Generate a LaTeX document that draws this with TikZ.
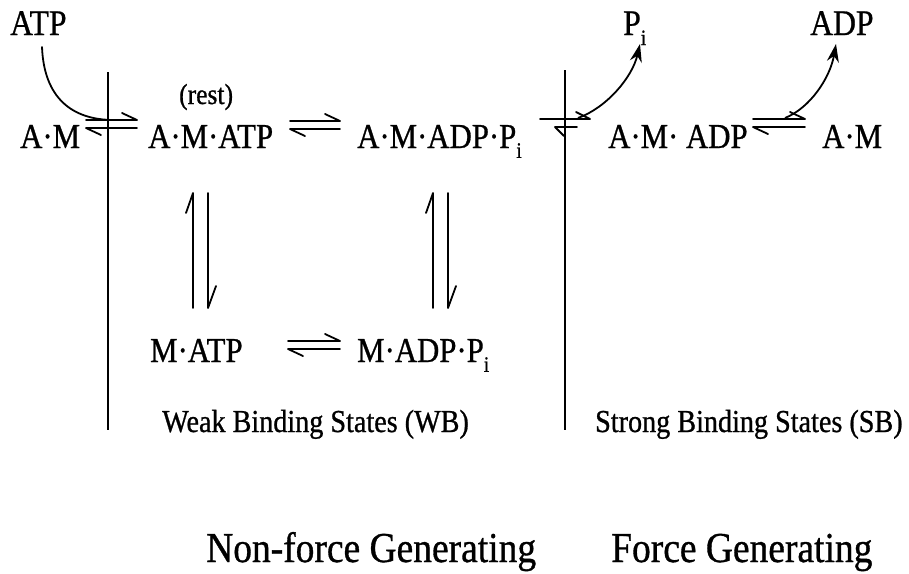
\documentclass[tikz,border=0pt]{standalone}
\usepackage{fontspec}
\setmainfont{Liberation Serif}[FakeStretch=0.88, FakeBold=0.8]
\usetikzlibrary{arrows.meta}
\newcommand{\fs}[1]{\fontsize{#1}{#1}\selectfont}
\newcommand{\sbi}{\raisebox{-0.28em}{\fs{22}i}}
\begin{document}
\begin{tikzpicture}[x=1pt,y=-1pt,
  lbl/.style={inner sep=0pt, anchor=base west, font=\fs{35}},
  toplbl/.style={inner sep=0pt, anchor=base west, font=\fs{36}},
  statelbl/.style={inner sep=0pt, anchor=base west, font=\fs{32}},
  biglbl/.style={inner sep=0pt, anchor=base west, font=\fs{42.6}},
  ln/.style={line width=1.8pt, line cap=round, line join=round},
  sep/.style={line width=1.8pt},
  rel/.style={line width=1.8pt, -{Stealth[length=18pt,width=12pt]}}]
\useasboundingbox (0,0) rectangle (909,573);

% texts
\node[toplbl] (atp) at (10,35) {ATP};
\node[toplbl] (pi) at (623,35) {P\sbi};
\node[toplbl] (adp) at (810,35) {ADP};
\node[inner sep=0pt, anchor=base west, font=\fs{29}] (rest) at (179,104) {(rest)};
\node[lbl] (am1) at (20,148) {A·M};
\node[lbl] (amatp) at (148,148) {A·M·ATP};
\node[lbl] (amadppi) at (357,148) {A·M·ADP·P\sbi};
\node[lbl] (amadp) at (608,148) {A·M· ADP};
\node[lbl] (am2) at (822,148) {A·M};
\node[lbl] (matp) at (150,362) {M·ATP};
\node[lbl] (madppi) at (357,362) {M·ADP·P\sbi};
\node[statelbl] (wb) at (162,432) {Weak Binding States (WB)};
\node[statelbl] (sb) at (595,432) {Strong Binding States (SB)};
\node[biglbl] (nfg) at (206,562) {Non-force Generating};
\node[biglbl] (fg) at (611,562) {Force Generating};

% separators
\draw[sep] (108,72) -- (108,430);
\draw[sep] (565,70) -- (565,430);

% A.M <=> A.M.ATP (ATP binding)
\coordinate (h1a) at (86,120); \coordinate (h1b) at (137,120);
\coordinate (h1c) at (86,128); \coordinate (h1d) at (137,128);
\draw[ln] (h1a) -- (h1b) -- ++(-15,-7);
\draw[ln] (h1d) -- (h1c) -- ++(15,7);
\draw[ln] (42,47) .. controls (44,98) and (72,120) .. (114,120);

% A.M.ATP <=> A.M.ADP.Pi
\coordinate (h2a) at (290,121); \coordinate (h2b) at (340,121);
\coordinate (h2c) at (290,129); \coordinate (h2d) at (340,129);
\draw[ln] (h2a) -- (h2b) -- ++(-15,-7);
\draw[ln] (h2d) -- (h2c) -- ++(15,7);

% Pi release
\coordinate (h3a) at (540,119); \coordinate (h3b) at (590,119);
\coordinate (h3c) at (555,127); \coordinate (h3d) at (577,127);
\draw[ln] (h3a) -- (h3b) -- ++(-14,-7);
\draw[ln] (h3d) -- (h3c) -- ++(9,9);
\draw[rel] (578,118) .. controls (606,108) and (632,78) .. (640,44);

% ADP release
\coordinate (h4a) at (753,119); \coordinate (h4b) at (805,119);
\coordinate (h4c) at (753,127); \coordinate (h4d) at (805,127);
\draw[ln] (h4a) -- (h4b) -- ++(-15,-7);
\draw[ln] (h4d) -- (h4c) -- ++(15,7);
\draw[rel] (785,118) .. controls (810,108) and (830,78) .. (836,44);

% vertical harpoons left
\draw[ln] (193,308) -- (193,193) -- ++(-7,20);
\draw[ln] (208,193) -- (208,308) -- ++(8,-22);
% vertical harpoons right
\draw[ln] (433,308) -- (433,193) -- ++(-7,20);
\draw[ln] (448,193) -- (448,308) -- ++(8,-22);

% M.ATP <=> M.ADP.Pi
\coordinate (h5a) at (288,341); \coordinate (h5b) at (340,341);
\coordinate (h5c) at (288,349); \coordinate (h5d) at (340,349);
\draw[ln] (h5a) -- (h5b) -- ++(-15,-7);
\draw[ln] (h5d) -- (h5c) -- ++(15,7);
\end{tikzpicture}
\end{document}
